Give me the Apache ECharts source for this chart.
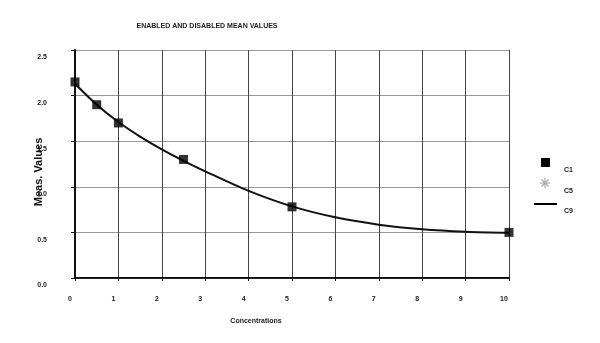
<!DOCTYPE html>
<html>
<head>
<meta charset="utf-8">
<script src="https://cdn.jsdelivr.net/npm/echarts@6/dist/echarts.min.js"></script>
<style>html,body{margin:0;padding:0;background:#fff}#c{width:600px;height:343px}</style>
</head>
<body>
<div id="c"></div>
<script>
const titleText = 'ENABLED AND DISABLED MEAN VALUES';
const xName = 'Concentrations';
const yName = 'Meas. Values';
const xTicks = [0,1,2,3,4,5,6,7,8,9,10];
const yTicks = ['0.0','0.5','1.0','1.5','2.0','2.5'];
// C1 measured points
const c1X = [0, 0.5, 1, 2.5, 5, 10];
const c1Y = [2.15, 1.90, 1.70, 1.30, 0.78, 0.50];
// C5 (no visible points)
const c5X = [];
const c5Y = [];
// C9 fitted curve
const c9X = [0, 0.5, 1, 1.5, 2, 2.5, 3, 4, 5, 6, 7, 8, 9, 10];
const c9Y = [2.13, 1.90, 1.71, 1.55, 1.41, 1.285, 1.17, 0.955, 0.785, 0.665, 0.585, 0.535, 0.508, 0.497];
const seriesNames = ['C1','C5','C9'];

const zip = (xs, ys) => xs.map((x, i) => [x, ys[i]]);
const lbl = {fontFamily:'Liberation Sans, Arial, sans-serif', fontWeight:'bold', fontSize:7, color:'#222'};

const chart = echarts.init(document.getElementById('c'), null, {renderer:'canvas'});
chart.setOption({
  animation:false,
  backgroundColor:'#fff',
  title:{text:titleText, left:202, top:18, textAlign:'center',
    textStyle:{fontFamily:'Liberation Sans, Arial, sans-serif', fontWeight:'bold', fontSize:7, color:'#222'}},
  grid:{left:75, top:50, right:91, bottom:65, containLabel:false},
  xAxis:[{
    type:'value', min:0, max:10, interval:1,
    name:xName, nameLocation:'middle', nameGap:40, nameMoveOverlap:false,
    nameTextStyle:Object.assign({}, lbl, {padding:[0,72,0,0]}),
    axisLine:{show:true, onZero:false, lineStyle:{color:'#111', width:2}},
    axisTick:{show:true, length:3, lineStyle:{color:'#111', width:1}},
    axisLabel:Object.assign({}, lbl, {margin:18, padding:[0,10,0,0],
      formatter:(v)=> xTicks.includes(v) ? String(v) : ''}),
    splitLine:{show:true, lineStyle:{color:'#444', width:1}}
  },{
    type:'value', min:0, max:10, position:'top',
    axisLine:{show:true, lineStyle:{color:'#222', width:1}},
    axisTick:{show:false}, axisLabel:{show:false}, splitLine:{show:false}
  }],
  yAxis:{
    type:'value', min:0, max:2.5, interval:0.5,
    name:yName, nameLocation:'middle', nameGap:31, nameRotate:90, nameMoveOverlap:false,
    nameTextStyle:{fontFamily:'Liberation Sans, Arial, sans-serif', fontWeight:'bold', fontSize:11, color:'#111', padding:[0,16,0,0]},
    axisLine:{show:true, lineStyle:{color:'#111', width:2}},
    axisTick:{show:true, length:4, lineStyle:{color:'#111', width:1}},
    axisLabel:Object.assign({}, lbl, {margin:28, verticalAlign:'top', padding:[4,0,0,0],
      formatter:(v)=> yTicks[Math.round(v/0.5)]}),
    splitLine:{show:true, lineStyle:{color:'#999', width:1}}
  },
  series:[
    {name:seriesNames[2], type:'line', smooth:0.3, data:zip(c9X, c9Y), showSymbol:false, symbol:'none',
      lineStyle:{color:'#111', width:2}, z:3},
    {name:seriesNames[0], type:'scatter', data:zip(c1X, c1Y), symbol:'rect', symbolSize:9,
      itemStyle:{color:'#000'}, z:4},
    {name:seriesNames[1], type:'scatter', data:zip(c5X, c5Y), symbol:'circle', symbolSize:8,
      itemStyle:{color:'#aaa'}, z:4}
  ],
  graphic:[
    {type:'rect', shape:{x:541, y:158, width:9, height:9}, style:{fill:'#000'}},
    {type:'text', x:564, y:170, style:{text:seriesNames[0], font:'bold 7px Liberation Sans, Arial', fill:'#222', textVerticalAlign:'middle'}},
    {type:'group', x:545, y:183, children:[
      {type:'line', shape:{x1:-5, y1:0, x2:5, y2:0}, style:{stroke:'#aaa', lineWidth:1.2}},
      {type:'line', shape:{x1:0, y1:-5, x2:0, y2:5}, style:{stroke:'#aaa', lineWidth:1.2}},
      {type:'line', shape:{x1:-3.5, y1:-3.5, x2:3.5, y2:3.5}, style:{stroke:'#aaa', lineWidth:1.2}},
      {type:'line', shape:{x1:-3.5, y1:3.5, x2:3.5, y2:-3.5}, style:{stroke:'#aaa', lineWidth:1.2}}
    ]},
    {type:'text', x:564, y:191, style:{text:seriesNames[1], font:'bold 7px Liberation Sans, Arial', fill:'#222', textVerticalAlign:'middle'}},
    {type:'line', shape:{x1:534, y1:204, x2:557, y2:204}, style:{stroke:'#000', lineWidth:2}},
    {type:'text', x:564, y:211, style:{text:seriesNames[2], font:'bold 7px Liberation Sans, Arial', fill:'#222', textVerticalAlign:'middle'}}
  ]
});
</script>
</body>
</html>
